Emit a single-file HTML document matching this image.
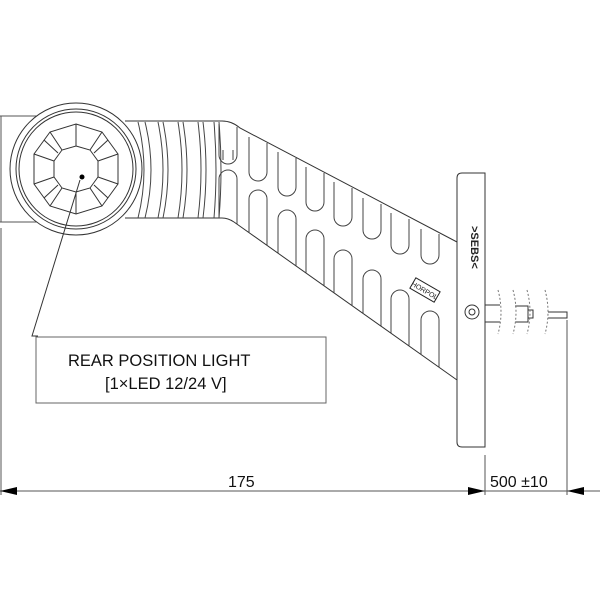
<!DOCTYPE html>
<html><head><meta charset="utf-8"><style>html,body{margin:0;padding:0;background:#fff}svg{display:block}</style></head>
<body>
<svg width="600" height="600" viewBox="0 0 600 600" xmlns="http://www.w3.org/2000/svg" font-family="Liberation Sans, sans-serif">
<defs><clipPath id="arm"><path d="M125 121 H222 Q232 121 240 128 L457 242 V380 L234 222 Q228 218 222 218 H125Z"/></clipPath></defs>
<g fill="none" stroke="#333" stroke-width="1">
<path d="M0 116 H40 M0 222 H40 M1 116 V222 M1 228 V495" stroke="#555"/>
<path d="M125 121 H222 Q232 121 240 128 L457 242"/>
<path d="M125 218 H222 Q228 218 234 222 L457 380"/>
<g stroke="#444">
<path d="M138 122 Q150 170 138 218"/><path d="M145 122 Q157 170 145 218"/>
<path d="M158 122 Q168 170 158 218"/><path d="M163 122 Q173 170 163 218"/>
<path d="M178 122 Q186 170 178 218"/><path d="M183 122 Q191 170 183 218"/>
<path d="M198 122 Q204 170 198 218"/><path d="M203 122 Q209 170 203 218"/>
<path d="M214 122 Q218 170 214 218"/><path d="M219 122 Q223 170 219 218"/>
</g>
<g stroke="#444" clip-path="url(#arm)">
<path d="M219 124 V155 a9 9 0 0 0 18 0 V127"/>
<path d="M249 137 V172 a9 9 0 0 0 18 0 V143"/>
<path d="M278 152 V187 a9 9 0 0 0 18 0 V158"/>
<path d="M306 167 V202 a9 9 0 0 0 18 0 V173"/>
<path d="M334 182 V217 a9 9 0 0 0 18 0 V188"/>
<path d="M363 198 V230 a9 9 0 0 0 18 0 V204"/>
<path d="M391 213 V245 a9 9 0 0 0 18 0 V219"/>
<path d="M421 229 V255 a9 9 0 0 0 18 0 V234"/>
<path d="M223 160 V150 M233 160 V150"/>
<path d="M219 222 V179 a9 9 0 0 1 18 0 V232"/>
<path d="M249 250 V199 a9 9 0 0 1 18 0 V260"/>
<path d="M278 270 V219 a9 9 0 0 1 18 0 V280"/>
<path d="M306 290 V239 a9 9 0 0 1 18 0 V300"/>
<path d="M334 310 V259 a9 9 0 0 1 18 0 V320"/>
<path d="M363 330 V279 a9 9 0 0 1 18 0 V340"/>
<path d="M391 350 V299 a9 9 0 0 1 18 0 V360"/>
<path d="M421 370 V320 a9 9 0 0 1 18 0 V380"/>
</g>
<circle cx="76" cy="169" r="66" fill="#fff"/>
<circle cx="76" cy="169" r="60"/>
<circle cx="76" cy="169" r="57"/>
<polygon points="76,124 102,132 118,154 118,184 102,206 76,214 50,206 34,184 34,154 50,132"/>
<polygon points="76,146 90,150 98,161 98,177 90,188 76,192 62,188 54,177 54,161 62,150"/>
<path d="M76 124V146M102 132L90 150M118 154L98 161M118 184L98 177M102 206L90 188M76 214V192M50 206L62 188M34 184L54 177M34 154L54 161M50 132L62 150"/>
<path d="M44 140L58 153M108 140L94 153M44 198L58 185M108 198L94 185"/>
<path d="M80 180 L32 336 L38 336"/>
<rect x="36" y="337" width="290" height="66" stroke="#666"/>
<path d="M462 173 H485 V447 H462 Q457 447 457 442 V178 Q457 173 462 173Z"/>
<circle cx="472" cy="312" r="7"/>
<circle cx="472" cy="312" r="3"/>
<path d="M485 305 H500 M485 322 H500 M515 306 H528 V322 H515 M528 310 H533 V318 H528 M548 312 H567 V318 H548"/>
<g stroke="#777" stroke-dasharray="2 2">
<path d="M498 290 Q504 312 498 334"/><path d="M513 290 Q519 312 513 334"/>
<path d="M527 290 Q533 312 527 334"/><path d="M545 290 Q551 312 545 334"/>
</g>
<path d="M0 491 H600 M485 455 V495 M567 320 V495" stroke="#555"/>
</g>
<g fill="#000">
<polygon points="0,491 17,487 17,495"/>
<polygon points="485,491 468,487 468,495"/>
<polygon points="567,491 584,487 584,495"/>
</g>
<text x="68" y="366" font-size="16.5" fill="#111">REAR POSITION LIGHT</text>
<text x="105" y="389" font-size="16.5" fill="#111">[1×LED 12/24 V]</text>
<text x="228" y="487" font-size="16" fill="#111">175</text>
<text x="490" y="487" font-size="16" fill="#111">500 ±10</text>
<text x="0" y="0" font-size="11" font-weight="bold" fill="#222" transform="translate(471,226) rotate(90)">&gt;SEBS&lt;</text>
<g transform="translate(425,290) rotate(30)"><rect x="-14" y="-6" width="28" height="12" fill="#fff" stroke="#222"/><text x="0" y="3" font-size="7" text-anchor="middle" fill="#222">HORPOL</text></g>
<circle cx="82" cy="177" r="2.5" fill="#000"/>
</svg>
</body></html>
